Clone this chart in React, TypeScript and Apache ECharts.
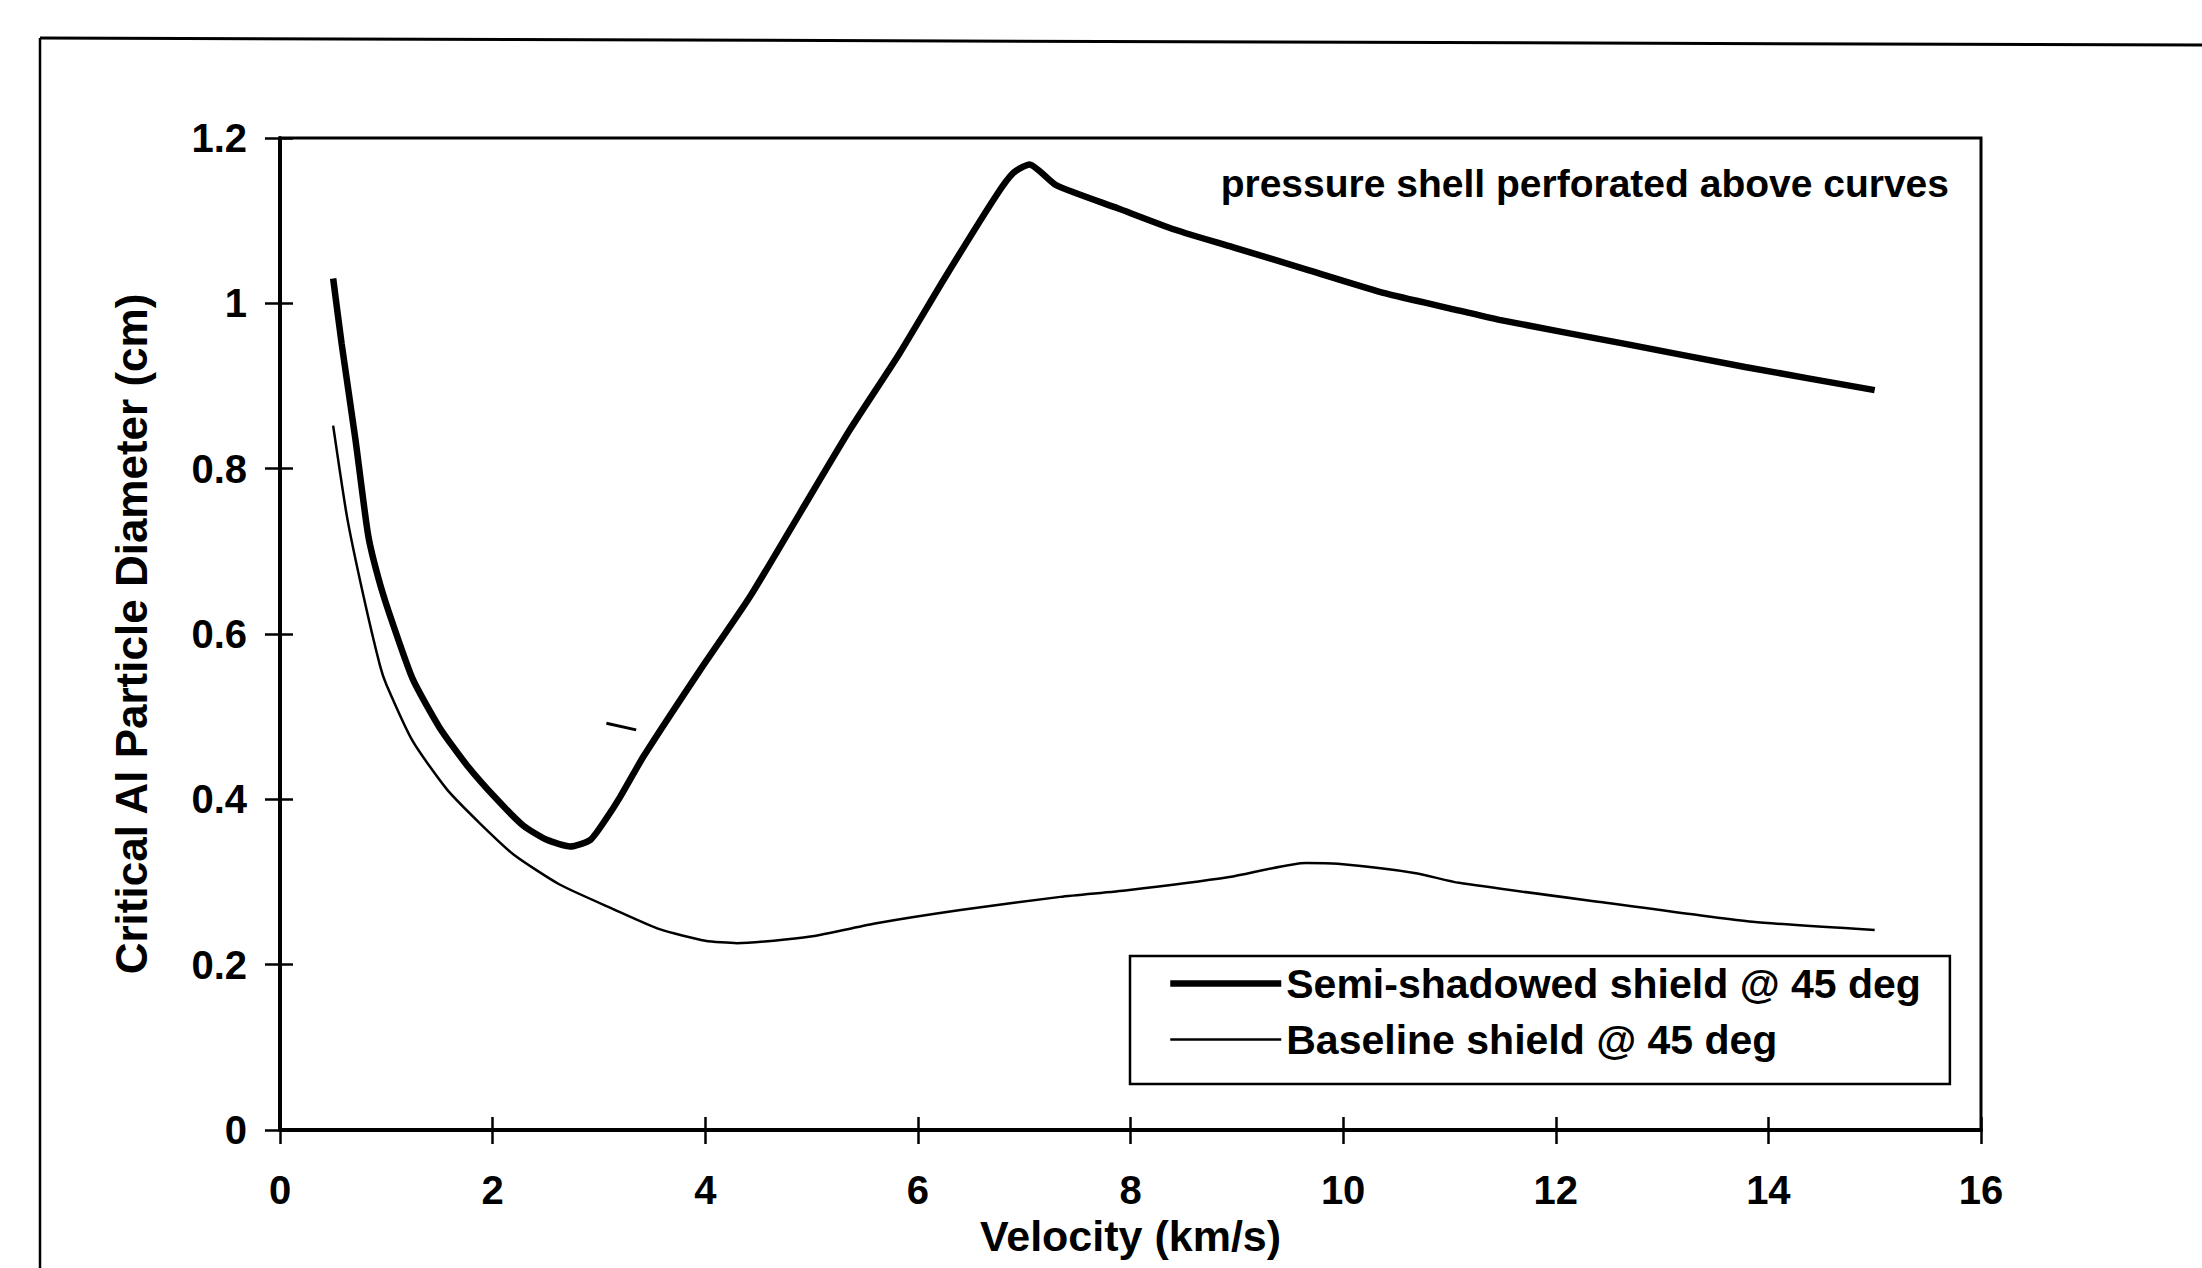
import React, { useEffect, useRef } from "react";
import * as echarts from "echarts";

// Velocity (km/s) and critical Al particle diameter (cm)
const velocitySemi = [0.5, 0.58, 0.71, 0.83, 0.94, 1.07, 1.25, 1.5, 1.76, 2.04, 2.29, 2.51, 2.73, 2.92, 3.07, 3.2, 3.42, 3.95, 4.42, 4.89, 5.36, 5.83, 6.24, 6.73, 6.9, 7.05, 7.3, 7.88, 8.42, 8.96, 9.68, 10.4, 11.0, 11.47, 12.69, 13.78, 15.0];
const diamSemi = [1.03, 0.951, 0.835, 0.719, 0.661, 0.609, 0.545, 0.487, 0.441, 0.4, 0.368, 0.351, 0.343, 0.351, 0.377, 0.403, 0.452, 0.556, 0.645, 0.746, 0.847, 0.94, 1.028, 1.129, 1.158, 1.168, 1.143, 1.115, 1.089, 1.068, 1.04, 1.012, 0.994, 0.98, 0.95, 0.923, 0.895];

const velocityBase = [0.5, 0.63, 0.78, 0.94, 1.0, 1.25, 1.57, 1.88, 2.2, 2.63, 3.14, 3.57, 4.0, 4.3, 4.99, 5.61, 6.4, 7.34, 7.97, 8.93, 9.65, 9.95, 10.67, 11.09, 12.47, 13.85, 15.0];
const diamBase = [0.852, 0.742, 0.649, 0.562, 0.539, 0.47, 0.412, 0.371, 0.333, 0.297, 0.267, 0.243, 0.229, 0.226, 0.234, 0.25, 0.266, 0.282, 0.29, 0.306, 0.323, 0.322, 0.311, 0.299, 0.275, 0.252, 0.242];

// small stray stroke in the original figure
const markX = [3.07, 3.35];
const markY = [0.492, 0.484];

const seriesNames = ["Semi-shadowed shield @ 45 deg", "Baseline shield @ 45 deg"];
const xTicks = { min: 0, max: 16, interval: 2 };
const yTicks = { min: 0, max: 1.2, interval: 0.2 };
const annotation = "pressure shell perforated above curves";
const xTitle = "Velocity (km/s)";
const yTitle = "Critical Al Particle Diameter (cm)";

const zip = (xs: number[], ys: number[]) => xs.map((x, i) => [x, ys[i]]);

const FONT = "'Liberation Sans', Arial, sans-serif";

export default function App() {
  const ref = useRef<HTMLDivElement>(null);
  useEffect(() => {
    if (!ref.current) return;
    const chart = echarts.init(ref.current, undefined, { renderer: "svg" });
    const axisCommonX = {
      type: "value" as const,
      min: xTicks.min,
      max: xTicks.max,
      interval: xTicks.interval,
      position: "bottom" as const,
      splitLine: { show: false },
    };
    const axisCommonY = {
      type: "value" as const,
      min: yTicks.min,
      max: yTicks.max,
      interval: yTicks.interval,
      position: "left" as const,
      splitLine: { show: false },
    };
    chart.setOption({
      animation: false,
      backgroundColor: "#ffffff",
      textStyle: { fontFamily: FONT, color: "#000" },
      grid: {
        left: 280,
        right: 221,
        top: 138,
        bottom: 138,
        show: true,
        borderColor: "#000",
        borderWidth: 3,
        backgroundColor: "transparent",
      },
      xAxis: [
        {
          ...axisCommonX,
          axisLine: { show: true, lineStyle: { color: "#000", width: 4 } },
          axisTick: { show: true, inside: false, length: 14, lineStyle: { color: "#000", width: 2.5 } },
          axisLabel: { fontSize: 40, fontWeight: "bold", color: "#000", margin: 40, fontFamily: FONT },
          name: xTitle,
          nameLocation: "middle",
          nameGap: 72,
          nameTextStyle: { fontSize: 43, fontWeight: "bold", color: "#000", fontFamily: FONT },
        },
        {
          ...axisCommonX,
          axisLine: { show: false },
          axisTick: { show: true, inside: true, length: 13, lineStyle: { color: "#000", width: 2.5 } },
          axisLabel: { show: false },
        },
      ],
      yAxis: [
        {
          ...axisCommonY,
          axisLine: { show: true, lineStyle: { color: "#000", width: 4 } },
          axisTick: { show: true, inside: false, length: 15, lineStyle: { color: "#000", width: 2.5 } },
          axisLabel: { fontSize: 40, fontWeight: "bold", color: "#000", margin: 33, fontFamily: FONT },
          name: yTitle,
          nameLocation: "middle",
          nameGap: 127,
          nameTextStyle: { fontSize: 44, fontWeight: "bold", color: "#000", fontFamily: FONT },
        },
        {
          ...axisCommonY,
          axisLine: { show: false },
          axisTick: { show: true, inside: true, length: 13, lineStyle: { color: "#000", width: 2.5 } },
          axisLabel: { show: false },
        },
      ],
      legend: {
        show: true,
        orient: "vertical",
        left: 1130,
        top: 956,
        padding: [7, 29, 24, 37],
        itemGap: 15,
        itemWidth: 111,
        itemHeight: 20,
        borderColor: "#000",
        borderWidth: 2.5,
        backgroundColor: "#fff",
        textStyle: { fontSize: 41, fontWeight: "bold", color: "#000", fontFamily: FONT },
        data: [
          { name: seriesNames[0], lineStyle: { width: 6.5, color: "#000" }, itemStyle: { opacity: 0 } },
          { name: seriesNames[1], lineStyle: { width: 2.5, color: "#000" }, itemStyle: { opacity: 0 } },
        ],
        selectedMode: false,
      },
      series: [
        {
          name: seriesNames[0],
          type: "line",
          data: zip(velocitySemi, diamSemi),
          symbol: "none",
          smooth: 0.2,
          lineStyle: { color: "#000", width: 6.5 },
          itemStyle: { color: "#000" },
        },
        {
          name: seriesNames[1],
          type: "line",
          data: zip(velocityBase, diamBase),
          symbol: "none",
          smooth: 0.2,
          lineStyle: { color: "#000", width: 2.5 },
          itemStyle: { color: "#000" },
        },
        {
          name: "mark",
          type: "line",
          data: zip(markX, markY),
          symbol: "none",
          lineStyle: { color: "#000", width: 3 },
        },
      ],
      graphic: [
        {
          type: "text",
          right: 2202 - 1949,
          top: 164,
          style: {
            text: annotation,
            fontSize: 39,
            fontWeight: "bold",
            fill: "#000",
            fontFamily: FONT,
          },
        },
        {
          type: "line",
          shape: { x1: 40, y1: 38, x2: 2202, y2: 45 },
          style: { stroke: "#000", lineWidth: 3 },
        },
        {
          type: "line",
          shape: { x1: 40, y1: 38, x2: 40, y2: 1268 },
          style: { stroke: "#000", lineWidth: 2.5 },
        },
      ],
    });
    return () => chart.dispose();
  }, []);
  return (
    <div
      ref={ref}
      style={{ position: "fixed", left: 0, top: 0, width: 2202, height: 1268 }}
    />
  );
}
